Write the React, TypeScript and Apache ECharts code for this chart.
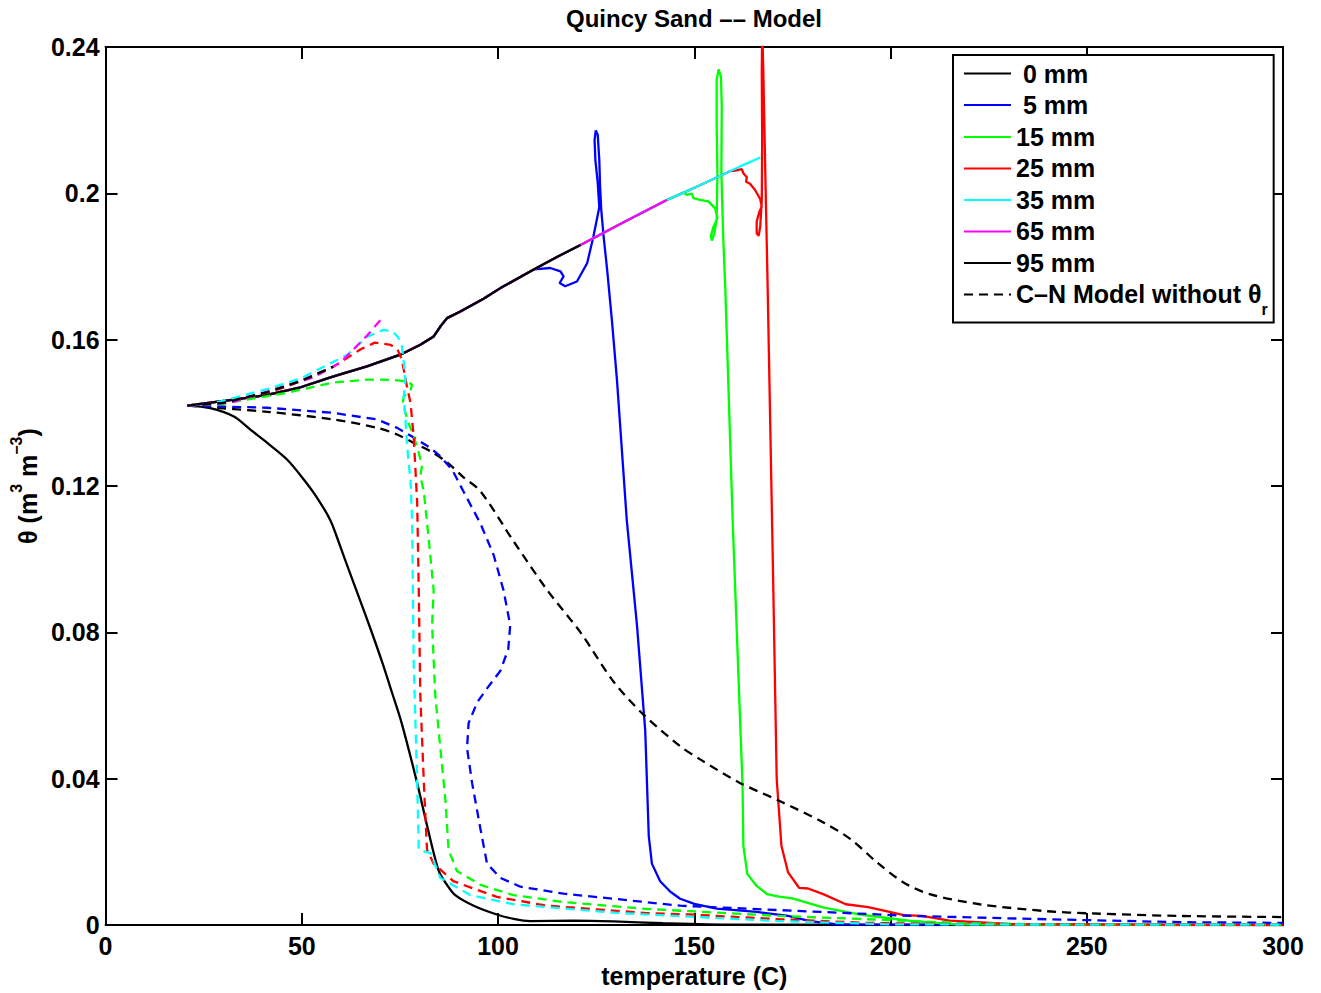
import React, { useEffect, useRef } from 'react';
import * as echarts from 'echarts';

const FONT = '"Liberation Sans", Arial, Helvetica, sans-serif';

const TITLE = 'Quincy Sand –– Model';
const X_NAME = 'temperature (C)';
const CN_NAME = 'C–N Model without θr';
const LEGEND_NAMES = ['0 mm', '5 mm', '15 mm', '25 mm', '35 mm', '65 mm', '95 mm', CN_NAME];

const X_MIN = 0;
const X_MAX = 300;
const X_STEP = 50;
const Y_MIN = 0;
const Y_MAX = 0.24;
const Y_STEP = 0.04;

// common rising branch shared by the solid model curves
const RISE: number[][] = [
  [20.8, 0.142], [26.7, 0.1428], [32.7, 0.1436], [41.2, 0.1449], [49.7, 0.147], [58.1, 0.15],
  [66.6, 0.1527], [75.1, 0.1559], [80.2, 0.1586], [83.6, 0.1609], [85.3, 0.1636], [87, 0.1659],
  [90.4, 0.1677], [96.3, 0.1712], [100.6, 0.1741], [109.1, 0.1792], [115, 0.1826], [121, 0.1859],
  [132, 0.1921], [143, 0.1982], [147.3, 0.2002], [152, 0.2025], [155, 0.204], [159.2, 0.2061],
  [163, 0.208], [166.8, 0.2098],
];

const END_95 = 121;
const END_65 = 143;
const END_35 = 166.8;
const BRANCH_5 = 109.1;
const BRANCH_15 = 147.3;
const BRANCH_25 = 159.2;

const SOLID_0: number[][] = [
  [20.8, 0.142], [26.7, 0.1413], [32.7, 0.139], [36.9, 0.1354], [41.2, 0.1318], [46.3, 0.1272],
  [50.5, 0.1218], [53.9, 0.1168], [57.3, 0.1106], [59.8, 0.1035], [62, 0.097], [64.5, 0.0898],
  [67.5, 0.081], [70.5, 0.0718], [73, 0.0635], [75.5, 0.055], [79.4, 0.0388], [81.9, 0.0273],
  [84.9, 0.0148], [87, 0.011], [89.1, 0.0082], [93.8, 0.0053], [99.7, 0.0029], [104, 0.0017],
  [108.2, 0.0011], [119.2, 0.0012], [129.4, 0.001], [142, 0.0005], [160, 0.0001], [300, 0],
];

const TAIL_5: number[][] = [
  [113.3, 0.1796], [115.9, 0.1787], [116.7, 0.1773], [115.7, 0.1755], [117.1, 0.1746], [120.1, 0.1759],
  [122.7, 0.1809], [124.3, 0.1882], [125.8, 0.1962], [125.4, 0.2029], [124.8, 0.2091], [124.6, 0.2146],
  [124.9, 0.2172], [125.4, 0.216], [125.8, 0.2091], [126, 0.2019], [126.3, 0.1955], [126.9, 0.1882],
  [127.8, 0.1791], [129, 0.1655], [130.3, 0.149], [132.8, 0.1107], [135.4, 0.082], [137.5, 0.0532],
  [138.4, 0.0244], [139.2, 0.0168], [141.3, 0.012], [143.9, 0.0091], [146.4, 0.0072], [150, 0.0058],
  [155.7, 0.0045], [165.9, 0.0036], [173.9, 0.0025], [179.5, 0.0011], [186.4, 0.0002], [300, 0],
];

const TAIL_15: number[][] = [
  [148.1, 0.1996], [149.4, 0.1999], [149.8, 0.1987], [151.5, 0.1982], [153.6, 0.1978], [155.3, 0.1959],
  [155.9, 0.1932], [154.9, 0.1909], [154.2, 0.1882], [154.5, 0.1871], [155.1, 0.1891], [155.7, 0.1927],
  [155.9, 0.2055], [155.7, 0.2192], [155.7, 0.231], [156.2, 0.2339], [156.8, 0.2319], [157, 0.2237],
  [156.9, 0.2055], [157.4, 0.1873], [157.9, 0.1741], [159.8, 0.11], [162.3, 0.038], [162.5, 0.0217],
  [163.5, 0.014], [165.9, 0.0107], [168.5, 0.0085], [171.6, 0.0078], [175, 0.0073], [183, 0.0048],
  [192, 0.0029], [205.7, 0.0011], [217, 0.0002], [300, 0],
];

const TAIL_25: number[][] = [
  [160.4, 0.2062], [162.1, 0.2066], [162.5, 0.2055], [163.4, 0.2044], [163.2, 0.2032], [164.2, 0.2026],
  [165.5, 0.2009], [166.8, 0.1984], [167.2, 0.1964], [166.6, 0.195], [165.9, 0.1923], [165.9, 0.1891],
  [166.4, 0.1884], [166.8, 0.1909], [167.2, 0.1982], [167.3, 0.2146], [167.2, 0.2328], [167.3, 0.246],
  [167.6, 0.2328], [168.1, 0.2055], [168.7, 0.1741], [170, 0.1], [171, 0.04], [172.2, 0.0217],
  [173.9, 0.0144], [176.7, 0.0102], [179, 0.01], [183, 0.0084], [188.6, 0.0057], [194.3, 0.0049],
  [198.9, 0.0038], [203.4, 0.0027], [208, 0.0025], [215, 0.0012], [230, 0.0003], [300, 0],
];

// C-N model without theta_r (dashed)
const CN_0: number[][] = [
  [20.8, 0.142], [24.2, 0.1417], [41.2, 0.1403], [58, 0.1382], [69.2, 0.1359], [74.3, 0.1341],
  [78.5, 0.1318], [82.8, 0.1295], [87, 0.1265], [91.2, 0.1224], [95.5, 0.1186], [103.9, 0.105],
  [112.5, 0.0916], [121, 0.08], [129.4, 0.0666], [137, 0.0576], [146.4, 0.0489], [151.5, 0.0453],
  [161.4, 0.039], [171.6, 0.034], [183, 0.028], [189.8, 0.0235], [196.6, 0.0171], [203.4, 0.0116],
  [210.2, 0.0084], [222.7, 0.0057], [239.8, 0.0038], [251, 0.0032], [273.9, 0.0025], [300, 0.0022],
];

const CN_5: number[][] = [
  [20.8, 0.142], [41.2, 0.1414], [58, 0.14], [69.2, 0.1382], [74.3, 0.1359], [78.5, 0.1333],
  [82.8, 0.1304], [85.3, 0.1281], [88.3, 0.1245], [91.2, 0.1185], [95.5, 0.1098], [98.9, 0.1011],
  [101.4, 0.0915], [103.1, 0.082], [102.6, 0.0754], [100.6, 0.0695], [97.2, 0.0647], [94.7, 0.0609],
  [92.5, 0.0552], [92.1, 0.0484], [93.4, 0.0388], [95.5, 0.0264], [97.2, 0.0168], [100.6, 0.0129],
  [105.7, 0.0105], [116.7, 0.0086], [129.4, 0.0072], [146.4, 0.0053], [171.6, 0.0041], [205.7, 0.0025],
  [239.8, 0.0016], [273.9, 0.0008], [300, 0.0006],
];

const CN_15: number[][] = [
  [20.8, 0.142], [30, 0.1425], [46.3, 0.1455], [58, 0.1483], [66.7, 0.1491], [70, 0.1491],
  [74.3, 0.1489], [76.8, 0.1486], [78.1, 0.1477], [77.7, 0.1463], [76, 0.1445], [75.8, 0.1432],
  [76.4, 0.14], [77.2, 0.1372], [78.5, 0.1336], [79.8, 0.1291], [80.6, 0.1254], [80.2, 0.1227],
  [81.1, 0.1185], [82.3, 0.1059], [83.6, 0.0915], [83.2, 0.082], [84, 0.0628], [85.3, 0.0484],
  [86.6, 0.0341], [87.4, 0.0206], [89.5, 0.0148], [95.5, 0.011], [103.9, 0.0082], [116.7, 0.0063],
  [138, 0.0044], [149, 0.0038], [171.6, 0.0025], [194.3, 0.0016], [217, 0.0006], [240, 0.0002], [300, 0.0001],
];

const CN_25: number[][] = [
  [20.8, 0.142], [30, 0.1428], [41.2, 0.1455], [46.3, 0.1472], [58, 0.1526], [64.9, 0.1573],
  [68.6, 0.1592], [72.6, 0.1586], [74.4, 0.1573], [75.5, 0.1545], [76.8, 0.1472], [77.7, 0.1427],
  [78.5, 0.1336], [79, 0.1236], [79.4, 0.1155], [79.8, 0.0915], [80.2, 0.0628], [81.1, 0.0388],
  [81.9, 0.0206], [83.6, 0.0168], [88.6, 0.012], [99.7, 0.0077], [112.5, 0.0053], [137.9, 0.0033],
  [149, 0.0029], [171.6, 0.0016], [194.3, 0.0006], [220, 0.0002], [300, 0.0001],
];

const CN_35: number[][] = [
  [20.8, 0.142], [26.7, 0.1424], [41.2, 0.1465], [49.7, 0.1494], [61.6, 0.1559], [66.7, 0.1608],
  [70.8, 0.1627], [73.3, 0.1622], [74.6, 0.1605], [75.5, 0.1582], [76, 0.1536], [76.4, 0.1491],
  [76, 0.1445], [76.4, 0.1382], [76.8, 0.1318], [77.2, 0.1263], [77.7, 0.1218], [78.1, 0.1107],
  [78.5, 0.0723], [79.4, 0.0388], [79.8, 0.0206], [82.8, 0.0197], [85.3, 0.0129], [92.9, 0.0082],
  [103.9, 0.0057], [129.4, 0.0034], [149, 0.0023], [171.6, 0.0011], [200, 0.0002], [300, 0.0001],
];

const CN_65: number[][] = [
  [20.8, 0.142], [26.7, 0.1424], [32.6, 0.143], [41.2, 0.1458], [53, 0.1497], [59.8, 0.1537],
  [66.7, 0.1612], [70.8, 0.1663],
];

const CN_95: number[][] = [
  [20.8, 0.142], [30, 0.1427], [41.2, 0.1457], [49.7, 0.1487], [58, 0.1526],
];

const upTo = (limit: number) => RISE.filter((p) => p[0] <= limit + 1e-9);

const LINE_W = 2.3;

const solid = (name: string, color: string, data: number[][], smooth: number | boolean = false) => ({
  name,
  type: 'line',
  data,
  symbol: 'none',
  showSymbol: false,
  smooth,
  lineStyle: { color, width: LINE_W },
  itemStyle: { color },
  emphasis: { disabled: true },
});

const dashed = (color: string, data: number[][], smooth: number | boolean = false) => ({
  name: CN_NAME,
  type: 'line',
  data,
  symbol: 'none',
  showSymbol: false,
  smooth,
  lineStyle: { color, width: LINE_W, type: [9, 6] },
  itemStyle: { color },
  emphasis: { disabled: true },
});

const axisLine = { onZero: false, lineStyle: { color: '#000', width: 2 } };
const axisTick = { inside: true, length: 12, lineStyle: { color: '#000', width: 2 } };
const labelStyle = { fontFamily: FONT, fontSize: 25, fontWeight: 'bold', color: '#000' };

const yFmt = (v: number) => (Math.abs(v) < 1e-9 ? '0' : String(parseFloat(v.toFixed(2))));

export default function App() {
  const ref = useRef<HTMLDivElement>(null);

  useEffect(() => {
    if (!ref.current) return;
    const chart = echarts.init(ref.current, undefined, { renderer: 'svg' });
    const option: any = {
      animation: false,
      backgroundColor: '#fff',
      title: {
        text: TITLE,
        left: 694,
        top: 6,
        textAlign: 'center',
        padding: 0,
        textStyle: { fontFamily: FONT, fontSize: 24, fontWeight: 'bold', color: '#000' },
      },
      grid: { left: 105, top: 47, width: 1178, height: 879, containLabel: false },
      xAxis: [
        {
          type: 'value', min: X_MIN, max: X_MAX, interval: X_STEP, position: 'bottom',
          name: X_NAME, nameLocation: 'middle', nameGap: 30,
          nameTextStyle: { ...labelStyle },
          axisLine, axisTick,
          axisLabel: { ...labelStyle, margin: 8, showMinLabel: true, showMaxLabel: true },
          splitLine: { show: false },
        },
        {
          type: 'value', min: X_MIN, max: X_MAX, interval: X_STEP, position: 'top',
          axisLine, axisTick, axisLabel: { show: false }, splitLine: { show: false },
        },
      ],
      yAxis: [
        {
          type: 'value', min: Y_MIN, max: Y_MAX, interval: Y_STEP, position: 'left',
          name: '{a|θ (m}{s|3}{a| m}{s|−3}{a|)}', nameLocation: 'middle', nameRotate: 90, nameGap: 58,
          nameTextStyle: {
            ...labelStyle,
            rich: {
              a: { fontFamily: FONT, fontSize: 25, fontWeight: 'bold', color: '#000', lineHeight: 32, verticalAlign: 'bottom' },
              s: { fontFamily: FONT, fontSize: 16, fontWeight: 'bold', color: '#000', lineHeight: 16, verticalAlign: 'top' },
            },
          },
          axisLine, axisTick,
          axisLabel: { ...labelStyle, margin: 6, formatter: yFmt, showMinLabel: true, showMaxLabel: true },
          splitLine: { show: false },
        },
        {
          type: 'value', min: Y_MIN, max: Y_MAX, interval: Y_STEP, position: 'right',
          axisLine, axisTick, axisLabel: { show: false }, splitLine: { show: false },
        },
      ],
      legend: {
        data: LEGEND_NAMES,
        orient: 'vertical',
        left: 953,
        top: 55,
        itemWidth: 47,
        itemHeight: 14,
        itemGap: 6.5,
        padding: [6, 6, 5, 10],
        borderColor: '#000',
        borderWidth: 2,
        borderRadius: 0,
        backgroundColor: '#fff',
        selectedMode: false,
        itemStyle: { opacity: 0 },
        lineStyle: { width: 2 },
        formatter: (name: string) => {
          if (name === CN_NAME) return '{b|C–N Model without θ}{s|r}';
          if (name === '0 mm' || name === '5 mm') return '{c|' + name + '}';
          return '{b|' + name + '}';
        },
        textStyle: {
          ...labelStyle,
          rich: {
            b: { fontFamily: FONT, fontSize: 25, fontWeight: 'bold', color: '#000', lineHeight: 26, verticalAlign: 'top' },
            c: { fontFamily: FONT, fontSize: 25, fontWeight: 'bold', color: '#000', lineHeight: 26, padding: [0, 0, 0, 7] },
            s: { fontFamily: FONT, fontSize: 16, fontWeight: 'bold', color: '#000', lineHeight: 16, padding: [20, 0, 0, 0], verticalAlign: 'top' },
          },
        },
      },
      series: [
        solid('0 mm', '#000000', SOLID_0, 0.3),
        solid('5 mm', '#0000ff', upTo(BRANCH_5).concat(TAIL_5)),
        solid('15 mm', '#00ff00', upTo(BRANCH_15).concat(TAIL_15)),
        solid('25 mm', '#ff0000', upTo(BRANCH_25).concat(TAIL_25)),
        solid('35 mm', '#00ffff', upTo(END_35)),
        solid('65 mm', '#ff00ff', upTo(END_65)),
        solid('95 mm', '#000000', upTo(END_95)),
        dashed('#000000', CN_0, 0.3),
        dashed('#0000ff', CN_5),
        dashed('#00ff00', CN_15),
        dashed('#ff0000', CN_25),
        dashed('#00ffff', CN_35),
        dashed('#ff00ff', CN_65),
        dashed('#000000', CN_95),
      ],
    };
    chart.setOption(option);
    return () => chart.dispose();
  }, []);

  return (
    <div
      ref={ref}
      style={{ position: 'absolute', left: 0, top: 0, width: 1321, height: 993, background: '#fff' }}
    />
  );
}
